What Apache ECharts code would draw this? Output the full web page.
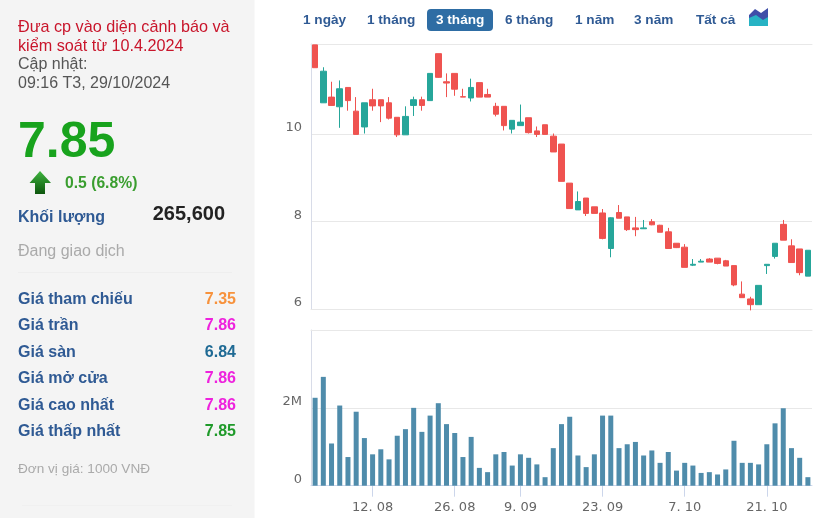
<!DOCTYPE html>
<html><head><meta charset="utf-8">
<style>html,body{margin:0;padding:0;background:#fff}#c{width:835px;height:518px}</style>
<script src="https://cdn.jsdelivr.net/npm/echarts@6/dist/echarts.min.js"></script>
</head><body><div id="c"></div>
<script>
const dates=['1. 08','2. 08','5. 08','6. 08','7. 08','8. 08','9. 08','12. 08','13. 08','14. 08','15. 08','16. 08','19. 08','20. 08','21. 08','22. 08','23. 08','26. 08','27. 08','28. 08','29. 08','30. 08','4. 09','5. 09','6. 09','9. 09','10. 09','11. 09','12. 09','13. 09','16. 09','17. 09','18. 09','19. 09','20. 09','23. 09','24. 09','25. 09','26. 09','27. 09','30. 09','1. 10','2. 10','3. 10','4. 10','7. 10','8. 10','9. 10','10. 10','11. 10','14. 10','15. 10','16. 10','17. 10','18. 10','21. 10','22. 10','23. 10','24. 10','25. 10','28. 10'];
const labelledDates=['12. 08','26. 08','9. 09','23. 09','7. 10','21. 10'];
const priceTicks=[6,8,10];
// open, close, low, high
const ohlc=[
[12.03,11.51,11.51,12.03],[10.71,11.43,10.71,11.52],[10.84,10.65,10.65,11.19],[10.62,11.03,10.14,11.22],[11.06,10.76,10.53,11.06],[10.52,9.99,9.99,10.84],
[10.16,10.71,10.01,10.71],[10.78,10.64,10.53,11.03],[10.78,10.64,10.27,10.78],[10.71,10.36,10.33,10.84],[10.38,9.98,9.93,10.38],[9.98,10.40,9.98,10.63],
[10.65,10.78,10.41,10.85],[10.78,10.65,10.53,10.85],[10.76,11.38,10.76,11.38],[11.83,11.29,11.28,11.83],[11.19,11.16,10.84,11.38],[11.38,11.02,10.87,11.38],
[10.85,10.84,10.84,11.03],[10.82,11.06,10.74,11.26],[11.17,10.84,10.84,11.17],[10.90,10.84,10.84,11.03],[10.63,10.45,10.40,10.71],[10.63,10.19,10.08,10.63],
[10.11,10.31,10.01,10.31],[10.19,10.27,10.19,10.67],[10.37,10.03,10.01,10.37],[10.07,9.99,9.93,10.17],[10.21,9.99,9.99,10.21],[9.95,9.59,9.59,10.01],
[9.77,8.92,8.92,9.77],[8.88,8.30,8.30,8.88],[8.27,8.46,8.27,8.69],[8.54,8.19,8.13,8.54],[8.34,8.19,8.19,8.34],[8.20,7.62,7.60,8.29],
[7.39,8.09,7.19,8.10],[8.21,8.08,8.08,8.38],[8.11,7.82,7.79,8.11],[7.86,7.82,7.67,8.11],[7.84,7.86,7.84,8.04],[8.00,7.93,7.92,8.06],
[7.92,7.76,7.76,7.93],[7.77,7.39,7.39,7.86],[7.51,7.41,7.40,7.51],[7.42,6.96,6.96,7.49],[7.01,7.03,6.99,7.15],[7.08,7.10,7.08,7.15],
[7.15,7.08,7.08,7.17],[7.17,7.05,7.03,7.17],[7.11,6.99,6.99,7.13],[7.00,6.56,6.53,7.00],[6.35,6.27,6.27,6.64],[6.24,6.11,5.98,6.29],
[6.11,6.55,6.11,6.55],[7.00,7.03,6.81,7.03],[7.21,7.51,7.16,7.51],[7.94,7.58,7.58,8.04],[7.45,7.07,7.07,7.60],[7.38,6.84,6.78,7.38],[6.76,7.35,6.76,7.35]];
const volumeM=[2.27,2.81,1.09,2.07,0.74,1.91,1.23,0.81,0.94,0.68,1.29,1.46,2.01,1.39,1.81,2.13,1.59,1.36,0.74,1.26,0.46,0.35,0.81,0.87,0.52,0.81,0.72,0.55,0.22,0.97,
1.59,1.78,0.78,0.48,0.81,1.81,1.81,0.97,1.07,1.13,0.78,0.91,0.59,0.87,0.39,0.59,0.52,0.33,0.35,0.29,0.42,1.16,0.59,0.59,0.55,1.07,1.61,2.0,0.97,0.72,0.22];
const headerRed=['Đưa cp vào diện cảnh báo và','kiểm soát từ 10.4.2024'];
const headerGray=['Cập nhật:','09:16 T3, 29/10/2024'];
const rowLabels=['Giá tham chiếu','Giá trần','Giá sàn','Giá mở cửa','Giá cao nhất','Giá thấp nhất'];
const rowValues=['7.35','7.86','6.84','7.86','7.86','7.85'];
const rowColors=['#f7923c','#ee22dd','#1f6a94','#ee22dd','#ee22dd','#1f9a2a'];
const rowY=[300,326,353,379,406,432];
const ranges=[['1 ngày',303],['1 tháng',367],['3 tháng',436],['6 tháng',505],['1 năm',575],['3 năm',634],['Tất cả',696]];
const F='"Liberation Sans",Arial,sans-serif';
const AF='"DejaVu Sans",sans-serif';
const blue='#2f5a94';
const T=(text,x,y,font,fill,align)=>({type:'text',z:10,style:{text,x,y,font:font+' '+F,fill,align:align||'left',verticalAlign:'middle'}});
const g=[
 {type:'rect',z:1,shape:{x:0,y:0,width:254.5,height:518},style:{fill:'#f4f4f4'}},
 {type:'rect',z:2,shape:{x:18,y:272,width:214,height:1},style:{fill:'#eeeeee'}},
 {type:'rect',z:2,shape:{x:22,y:505,width:210,height:1},style:{fill:'#f0f0f0'}},
 T(headerRed[0],18,28,'16.2px','#c9152b'),T(headerRed[1],18,46.5,'16.2px','#c9152b'),
 T(headerGray[0],18,65,'16px','#555555'),T(headerGray[1],18,84,'16px','#555555'),
 T('7.85',18,143,'bold 50px','#18a31d'),
 {type:'polygon',z:5,shape:{points:[[40,171],[51,183],[45,183],[45,194],[35,194],[35,183],[29.5,183]]},style:{fill:{type:'linear',x:0,y:0,x2:0,y2:1,colorStops:[{offset:0,color:'#3fb53f'},{offset:1,color:'#0d560d'}]}}},
 T('0.5 (6.8%)',65,183.5,'bold 15.7px','#3a9e2f'),
 T('Khối lượng',18,218,'bold 16px',blue),
 T('265,600',225,214.5,'bold 20px','#222222','right'),
 T('Đang giao dịch',18,251.5,'16px','#aaaaaa'),
 T('Đơn vị giá: 1000 VNĐ',18,469,'13.6px','#aaaaaa'),
 {type:'rect',z:5,shape:{x:427,y:9,width:66,height:22,r:4},style:{fill:'#2e6da4'}},
 {type:'polygon',z:5,shape:{points:[[749,26],[749,17],[755,12],[768,16],[768,26]]},style:{fill:'#27b3c4'}},
 {type:'polygon',z:6,shape:{points:[[749,18],[749,15],[755,9],[761,13],[768,8],[768,17],[763,20],[756,15]]},style:{fill:'#3f4ea8'}}
];
rowLabels.forEach((l,i)=>{g.push(T(l,18,rowY[i],'bold 16px',blue));g.push(T(rowValues[i],236,rowY[i],'bold 16px',rowColors[i],'right'));});
ranges.forEach(r=>g.push(T(r[0],r[1],20,'bold 13.6px',r[0]==='3 tháng'?'#ffffff':blue)));
const show=(i,v)=>labelledDates.includes(v);
const gridLine={show:true,lineStyle:{color:'#e8e8e8',width:1}};
const edge={show:true,lineStyle:{color:'#e8e8e8',width:1}};
const yLabel={color:'#666666',fontFamily:AF,fontSize:13,verticalAlign:'bottom',margin:9};
const topX=(i)=>({type:'category',gridIndex:i,position:'top',data:dates,axisLine:edge,axisTick:{show:false},axisLabel:{show:false},splitLine:{show:false}});
const chart=echarts.init(document.getElementById('c'),null,{renderer:'canvas'});
chart.setOption({
 animation:false,backgroundColor:'#ffffff',graphic:g,
 grid:[{left:311,top:44,width:501,height:265.5},{left:311,top:330,width:501,height:155.7}],
 xAxis:[
  {type:'category',gridIndex:0,data:dates,axisLine:edge,axisTick:{show:false},axisLabel:{show:false},splitLine:{show:false}},
  {type:'category',gridIndex:1,data:dates,axisLine:{show:true,lineStyle:{color:'#ccd6eb',width:1}},
   axisTick:{show:true,alignWithLabel:true,length:11,interval:show,lineStyle:{color:'#ccd6eb'}},
   axisLabel:{show:true,interval:show,color:'#666666',fontFamily:AF,fontSize:13,margin:15},splitLine:{show:false}},
  topX(0),topX(1)],
 yAxis:[
  {type:'value',gridIndex:0,min:6,max:12.05,interval:2,axisLine:{show:true,lineStyle:{color:'#d8dce8'}},axisTick:{show:false,customValues:priceTicks},splitLine:gridLine,
   axisLabel:Object.assign({},yLabel,{customValues:priceTicks})},
  {type:'value',gridIndex:1,min:0,max:4.02,interval:2,axisLine:{show:true,lineStyle:{color:'#d8dce8'}},axisTick:{show:false,customValues:[0,2]},splitLine:gridLine,
   axisLabel:Object.assign({},yLabel,{customValues:[0,2],formatter:v=>v===0?'0':'2M'})}],
 series:[
  {type:'candlestick',xAxisIndex:0,yAxisIndex:0,data:ohlc,barWidth:6,clip:false,
   itemStyle:{color:'#26a69a',color0:'#ef5350',borderColor:'#26a69a',borderColor0:'#ef5350',borderWidth:1}},
  {type:'bar',xAxisIndex:1,yAxisIndex:1,data:volumeM,barWidth:5,itemStyle:{color:'#4f8cab'}}
 ]
});
</script></body></html>
